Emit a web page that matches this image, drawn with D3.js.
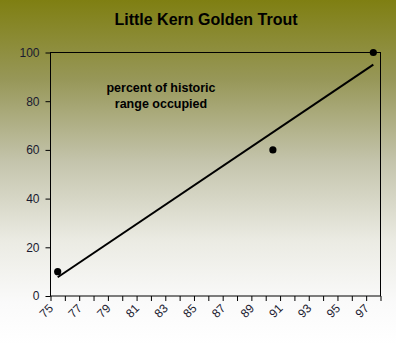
<!DOCTYPE html>
<html><head><meta charset="utf-8">
<script src="https://cdn.jsdelivr.net/npm/d3@7"></script>
<style>html,body{margin:0;padding:0;overflow:hidden;background:#fff}</style>
</head><body>
<script>
const title = "Little Kern Golden Trout";
const noteLines = ["percent of historic", "range occupied"];
const years = [75.5, 90.5, 97.5];
const percents = [10, 60, 100];
const yTicks = [0, 20, 40, 60, 80, 100];
const xTickLabels = [75, 77, 79, 81, 83, 85, 87, 89, 91, 93, 95, 97];
const xMinor = d3.range(75, 99);

const W = 396, H = 344;
const m = {left: 50.5, right: 15.5, top: 52.5, bottom: 48};
const svg = d3.select("body").append("svg").attr("width", W).attr("height", H);
const defs = svg.append("defs");
const g = defs.append("linearGradient").attr("id", "bg").attr("x1", 0).attr("y1", 0).attr("x2", 0).attr("y2", 1);
[[0, "#7f7f12"], [0.23, "#979758"], [0.47, "#c4c4ac"], [0.7, "#ebebe3"], [0.88, "#fafafa"], [1, "#ffffff"]]
  .forEach(([o, c]) => g.append("stop").attr("offset", o).attr("stop-color", c));
svg.append("rect").attr("width", W).attr("height", H).attr("fill", "url(#bg)");

const x = d3.scaleLinear().domain([75, 98]).range([m.left, W - m.right]);
const y = d3.scaleLinear().domain([0, 100]).range([H - m.bottom, m.top]);

// plot border
svg.append("rect").attr("x", x(75)).attr("y", y(100)).attr("width", x(98) - x(75)).attr("height", y(0) - y(100))
  .attr("fill", "none").attr("stroke", "#000").attr("stroke-width", 1);

const font = "'Liberation Sans', Arial, sans-serif";
// y axis
const ya = svg.append("g").attr("transform", `translate(${x(75)},0)`)
  .call(d3.axisLeft(y).tickValues(yTicks).tickSize(5).tickPadding(6));
ya.select(".domain").remove();
ya.selectAll("line").attr("stroke", "#000");
ya.selectAll("text").attr("font-family", font).attr("font-size", 12).attr("fill", "#1a1a30");

// x axis
const xa = svg.append("g").attr("transform", `translate(0,${y(0)})`)
  .call(d3.axisBottom(x).tickValues(xMinor).tickSize(5).tickFormat(d => xTickLabels.includes(d) ? d : ""));
xa.select(".domain").remove();
xa.selectAll("line").attr("stroke", "#000");
xa.selectAll("text").attr("font-family", font).attr("font-size", 12).attr("fill", "#1a1a30")
  .attr("text-anchor", "end").attr("dy", 0).attr("y", 0)
  .attr("transform", "translate(3,13) rotate(-45)");

// trendline (least squares)
const mx = d3.mean(years), my = d3.mean(percents);
const slope = d3.sum(years, (v, i) => (v - mx) * (percents[i] - my)) / d3.sum(years, v => (v - mx) ** 2);
const icpt = my - slope * mx;
const ext = d3.extent(years);
svg.append("line").attr("x1", x(ext[0])).attr("y1", y(icpt + slope * ext[0]))
  .attr("x2", x(ext[1])).attr("y2", y(icpt + slope * ext[1]))
  .attr("stroke", "#000").attr("stroke-width", 2);

// points
svg.selectAll("circle.pt").data(years).join("circle").attr("class", "pt")
  .attr("cx", d => x(d)).attr("cy", (d, i) => y(percents[i])).attr("r", 3.6).attr("fill", "#000");

svg.append("text").attr("x", 206).attr("y", 25).attr("text-anchor", "middle")
  .attr("font-family", font).attr("font-weight", "bold").attr("font-size", 16).attr("fill", "#000").text(title);

svg.append("g").selectAll("text").data(noteLines).join("text")
  .attr("x", 161).attr("y", (d, i) => 92 + i * 16).attr("text-anchor", "middle")
  .attr("font-family", font).attr("font-weight", "bold").attr("font-size", 12.5).attr("fill", "#000").text(d => d);
</script>
</body></html>
